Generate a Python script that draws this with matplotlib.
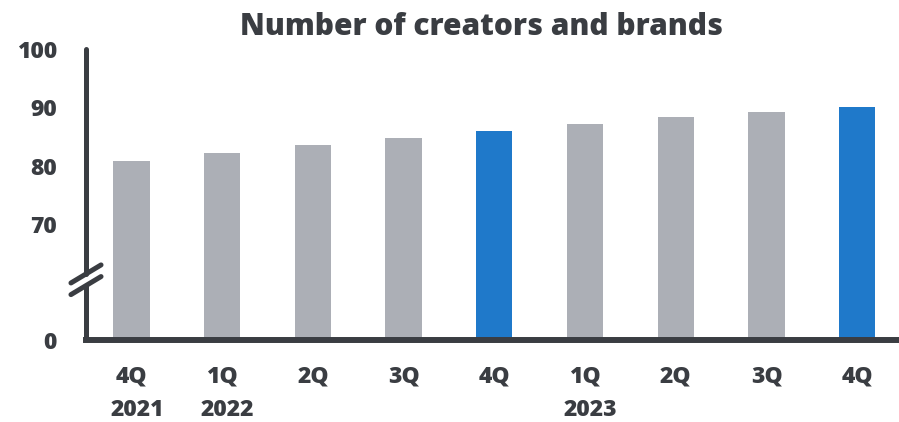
import numpy as np
import matplotlib
matplotlib.use('Agg')
import matplotlib.pyplot as plt
from matplotlib.lines import Line2D

plt.rcParams['font.family'] = ['Open Sans', 'DejaVu Sans']

# data
quarters = ['4Q', '1Q', '2Q', '3Q', '4Q', '1Q', '2Q', '3Q', '4Q']
years = ['2021', '2022', '', '', '', '2023', '', '', '']
creators = [80.8, 82.2, 83.5, 84.8, 85.9, 87.1, 88.3, 89.2, 90.0]
highlight = [False, False, False, False, True, False, False, False, True]
yticks = [0, 70, 80, 90, 100]

GRAY = '#ACAFB6'
BLUE = '#1F79CA'
DARK = '#3A3D42'
WEIGHT = 'heavy'

# broken axis: 0..70 squeezed into a short stub below 70
BREAK = 70.0
STUB = 19.9


def fwd(v):
    v = np.asarray(v, dtype=float)
    return np.where(v >= BREAK, v, BREAK - STUB + v * STUB / BREAK)


def inv(t):
    t = np.asarray(t, dtype=float)
    return np.where(t >= BREAK, t, (t - (BREAK - STUB)) * BREAK / STUB)


fig = plt.figure(figsize=(8.99, 4.22), dpi=100)
ax = fig.add_axes([86 / 899, 1 - 340 / 422, 1 - 86 / 899, 291 / 422])
ax.set_yscale('function', functions=(fwd, inv))

x = np.arange(len(creators))
colors = [BLUE if h else GRAY for h in highlight]
ax.bar(x, creators, width=0.4, color=colors, zorder=2)

ax.set_xlim(-0.5, 8.46)
ax.set_ylim(0, 100)

ax.set_yticks(yticks)
ax.set_yticklabels([str(t) for t in yticks])
ax.yaxis.set_minor_locator(matplotlib.ticker.NullLocator())
ax.set_xticks(x)
ax.set_xticklabels(quarters)
ax.tick_params(axis='both', length=0, labelsize=16.5, colors=DARK)
ax.tick_params(axis='y', pad=21)
ax.tick_params(axis='x', pad=18)
for lab in ax.get_xticklabels() + ax.get_yticklabels():
    lab.set_fontweight(WEIGHT)

for xi, yr in zip(x, years):
    if yr:
        ax.annotate(yr, xy=(xi, -0.2405), xycoords=('data', 'axes fraction'),
                    xytext=(4, 0), textcoords='offset points',
                    ha='center', va='center', fontsize=16.5,
                    fontweight=WEIGHT, color=DARK)

for s in ['top', 'right', 'left']:
    ax.spines[s].set_visible(False)
ax.spines['bottom'].set_color(DARK)
ax.spines['bottom'].set_linewidth(4.3)
ax.spines['bottom'].set_zorder(3)

# left axis with break marks
lw = 3.6
tr = ax.transAxes
ax.add_line(Line2D([0, 0], [0.004, 0.187], transform=tr, color=DARK, lw=lw,
                   solid_capstyle='round', clip_on=False, zorder=3))
ax.add_line(Line2D([0, 0], [0.227, 1.0], transform=tr, color=DARK, lw=lw,
                   solid_capstyle='round', clip_on=False, zorder=3))
dx, dy = 0.0185, 0.031
for yc in (0.187, 0.227):
    ax.add_line(Line2D([-dx, dx], [yc - dy, yc + dy], transform=tr, color=DARK,
                       lw=lw, solid_capstyle='round', clip_on=False, zorder=3))

fig.text(482 / 899, 1 - 27 / 422, 'Number of creators and brands',
         ha='center', va='center', fontsize=21.5, fontweight=WEIGHT, color=DARK)

fig.savefig('out.png', dpi=100)
